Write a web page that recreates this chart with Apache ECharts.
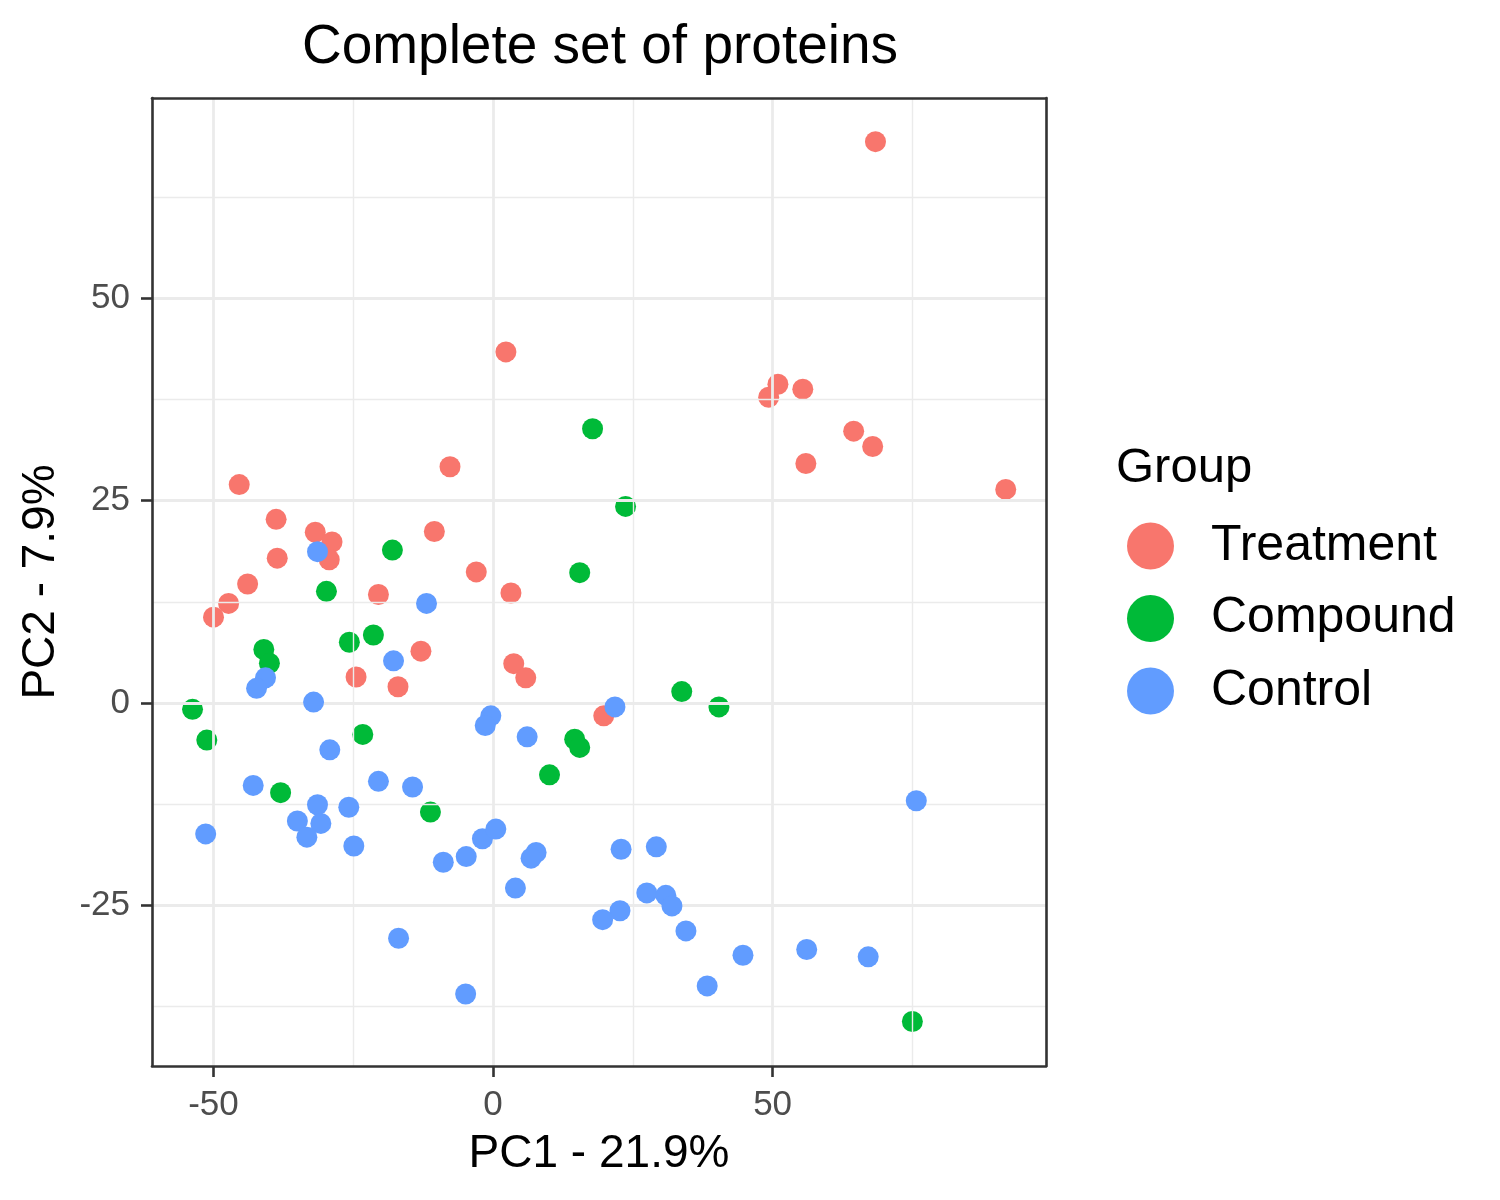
<!DOCTYPE html>
<html>
<head>
<meta charset="utf-8">
<script src="https://cdn.jsdelivr.net/npm/echarts@6/dist/echarts.min.js"></script>
<style>
html,body{margin:0;padding:0;background:#fff;}
#chart{width:1500px;height:1200px;}
</style>
</head>
<body>
<div id="chart"></div>
<script>
// ---- data ----
const groups = ['Treatment', 'Compound', 'Control'];
const treatment = [
  [68.4, 69.4], [2.3, 43.4], [50.95, 39.4], [55.4, 38.8], [49.3, 37.8],
  [64.5, 33.6], [67.9, 31.7], [55.95, 29.6], [91.7, 26.4], [-7.7, 29.2],
  [-45.4, 27.0], [-38.8, 22.7], [-31.8, 21.1], [-28.8, 19.9], [-29.3, 17.7],
  [-38.6, 17.9], [-10.5, 21.2], [-43.9, 14.7], [-47.3, 12.3], [-50.0, 10.6],
  [-20.5, 13.4], [-3.0, 16.2], [3.2, 13.6], [-12.9, 6.4], [3.7, 4.85],
  [5.85, 3.1], [-24.5, 3.2], [-17.0, 2.0], [19.8, -1.6]
];
const compound = [
  [17.8, 33.9], [23.7, 24.3], [15.5, 16.1], [-18.0, 18.9], [-29.8, 13.8],
  [-21.4, 8.4], [-25.7, 7.5], [-41.0, 6.6], [-40.0, 4.9], [-53.75, -0.8],
  [-51.2, -4.6], [-23.3, -3.9], [-38.0, -11.1], [-11.2, -13.5], [14.6, -4.5],
  [15.5, -5.5], [10.1, -8.9], [33.75, 1.4], [40.4, -0.5], [75.0, -39.4]
];
const control = [
  [-31.4, 18.7], [-11.9, 12.3], [-17.8, 5.2], [-40.7, 3.1], [-42.3, 1.8],
  [-32.1, 0.1], [-0.4, -1.6], [-1.4, -2.8], [6.1, -4.2], [21.8, -0.5],
  [-29.2, -5.8], [-42.9, -10.2], [-20.5, -9.7], [-14.4, -10.4], [-31.4, -12.6],
  [-25.8, -12.9], [-35.0, -14.6], [-30.8, -14.9], [-33.3, -16.6], [-24.9, -17.7],
  [-51.4, -16.2], [-8.9, -19.7], [-4.8, -19.0], [-1.9, -16.8], [0.5, -15.6],
  [7.7, -18.5], [6.8, -19.2], [4.0, -22.9], [22.9, -18.1], [29.2, -17.8],
  [27.5, -23.5], [30.9, -23.8], [32.0, -25.1], [22.7, -25.7], [19.6, -26.8],
  [34.5, -28.2], [44.7, -31.2], [38.3, -35.0], [56.1, -30.5], [67.1, -31.4],
  [75.7, -12.1], [-16.9, -29.1], [-4.9, -36.0]
];
const xMajorTicks = [-50, 0, 50];
const xMinorTicks = [-25, 25, 75];
const yMajorTicks = [-25, 0, 25, 50];
const yMinorTicks = [-37.5, -12.5, 12.5, 37.5, 62.5];
const xRange = [-61.0, 98.9];
const yRange = [-44.9, 74.8];
const titleText = 'Complete set of proteins';
const xTitle = 'PC1 - 21.9%';
const yTitle = 'PC2 - 7.9%';
const legendTitle = 'Group';
const colors = ['#F8766D', '#00BA38', '#619CFF'];

// ---- chart ----
const FONT = '"Liberation Sans", Arial, sans-serif';
const chart = echarts.init(document.getElementById('chart'), null, {renderer: 'canvas'});

const majorStyle = {color: '#EBEBEB', width: 2.8, type: 'solid'};
const minorStyle = {color: '#EBEBEB', width: 1.4, type: 'solid'};
const gridLines = []
  .concat(xMinorTicks.map(v => ({xAxis: v, lineStyle: minorStyle})))
  .concat(yMinorTicks.map(v => ({yAxis: v, lineStyle: minorStyle})))
  .concat(xMajorTicks.map(v => ({xAxis: v, lineStyle: majorStyle})))
  .concat(yMajorTicks.map(v => ({yAxis: v, lineStyle: majorStyle})));

const borderLine = {show: true, onZero: false, lineStyle: {color: '#333333', width: 2.6}};
const gridCfg = {left: 152, right: 454, top: 98, bottom: 134};

const option = {
  backgroundColor: '#ffffff',
  animation: false,
  title: [
    {
      text: titleText, left: 595, top: 15, textAlign: 'center',
      textStyle: {fontFamily: FONT, fontSize: 55, fontWeight: 'normal', color: '#000'}
    },
    {
      text: legendTitle, left: 1111, top: 439,
      textStyle: {fontFamily: FONT, fontSize: 49, fontWeight: 'normal', color: '#000'}
    }
  ],
  grid: gridCfg,
  legend: {
    data: groups,
    orient: 'vertical',
    left: 1122,
    top: 516,
    icon: 'circle',
    itemWidth: 111,
    itemHeight: 47,
    itemGap: 22.5,
    textStyle: {fontFamily: FONT, fontSize: 50, color: '#000'}
  },
  xAxis: [
    {
      type: 'value', min: xRange[0], max: xRange[1], position: 'bottom', z: 10,
      axisLine: borderLine,
      axisTick: {show: true, customValues: xMajorTicks, length: 11, lineStyle: {color: '#333333', width: 2.6}},
      axisLabel: {customValues: xMajorTicks, margin: 22, color: '#4D4D4D', fontSize: 35, fontFamily: FONT},
      splitLine: {show: false},
      name: xTitle, nameLocation: 'middle', nameGap: 65,
      nameTextStyle: {fontFamily: FONT, fontSize: 46, color: '#000'}
    },
    {
      type: 'value', min: xRange[0], max: xRange[1], position: 'top', z: 10,
      axisLine: borderLine, axisTick: {show: false}, axisLabel: {show: false}, splitLine: {show: false}
    }
  ],
  yAxis: [
    {
      type: 'value', min: yRange[0], max: yRange[1], position: 'left', z: 10,
      axisLine: borderLine,
      axisTick: {show: true, customValues: yMajorTicks, length: 11, lineStyle: {color: '#333333', width: 2.6}},
      axisLabel: {customValues: yMajorTicks, margin: 22, color: '#4D4D4D', fontSize: 35, fontFamily: FONT},
      splitLine: {show: false},
      name: yTitle, nameLocation: 'middle', nameGap: 88, nameRotate: 90,
      nameTextStyle: {fontFamily: FONT, fontSize: 46, color: '#000'}
    },
    {
      type: 'value', min: yRange[0], max: yRange[1], position: 'right', z: 10,
      axisLine: borderLine, axisTick: {show: false}, axisLabel: {show: false}, splitLine: {show: false}
    }
  ],
  series: [
    {
      type: 'line', name: 'grid', data: [], z: 1, silent: true,
      markLine: {silent: true, symbol: 'none', label: {show: false}, animation: false, data: gridLines}
    },
    {
      type: 'scatter', name: groups[0], data: treatment, z: 3,
      symbol: 'circle', symbolSize: 21, itemStyle: {color: colors[0], opacity: 1}
    },
    {
      type: 'scatter', name: groups[1], data: compound, z: 4,
      symbol: 'circle', symbolSize: 21, itemStyle: {color: colors[1], opacity: 1}
    },
    {
      type: 'scatter', name: groups[2], data: control, z: 5,
      symbol: 'circle', symbolSize: 21, itemStyle: {color: colors[2], opacity: 1}
    }
  ]
};
chart.setOption(option);
</script>
</body>
</html>
